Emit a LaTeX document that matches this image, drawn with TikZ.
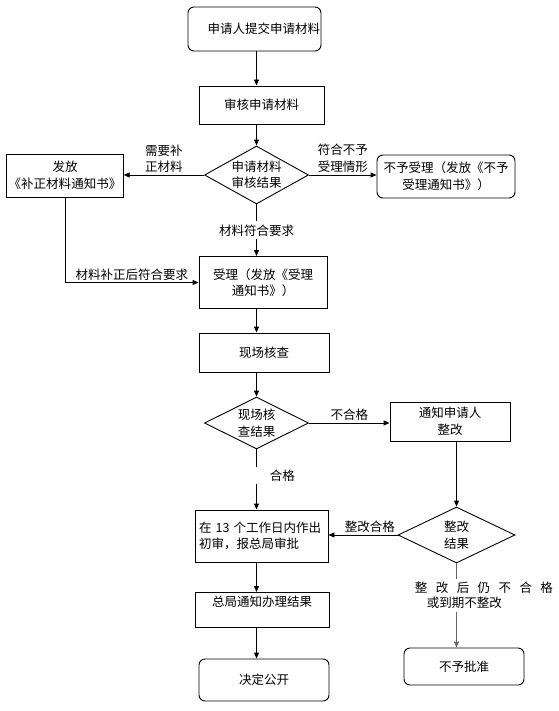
\documentclass[tikz,border=0pt]{standalone}
\usepackage{fontspec}
\setmainfont{Noto Sans CJK SC}
\usetikzlibrary{arrows.meta,shapes.geometric}

\begin{document}
\begin{tikzpicture}[x=1pt, y=-1pt, line width=0.9pt,
  every node/.style={font=\fontsize{12.5}{16.5}\selectfont},
  >={Triangle[length=6pt, width=5pt]},
  procbox/.style={draw, rectangle, align=center, inner sep=2pt},
  roundbox/.style={procbox, rounded corners=6pt},
  decision/.style={draw, diamond, align=center, inner sep=0pt},
  lbl/.style={align=center, inner sep=2pt},
  onlbl/.style={lbl, fill=white, inner sep=3pt}]
	\useasboundingbox (0,0) rectangle (558,711);
	% main column
	\node[roundbox, minimum width=133pt, minimum height=44pt, text width=131pt, inner xsep=1pt, align=right] (apply) at (254.5,29) {申请人提交申请材料};
	\node[procbox, minimum width=125pt, minimum height=38pt] (review) at (261.5,105) {审核申请材料};
	\node[decision, aspect=1.8, minimum width=104pt, minimum height=58pt] (check) at (256.5,175) {申请材料\\审核结果};
	\node[procbox, minimum width=116pt, minimum height=43pt] (supp) at (65,175.5) {发放\\《补正材料通知书》};
	\node[roundbox, minimum width=138pt, minimum height=43pt] (refuse) at (446,176.5) {不予受理（发放《不予\\受理通知书》）};
	\node[procbox, minimum width=128pt, minimum height=52pt] (accept) at (263,282.5) {受理（发放《受理\\通知书》）};
	\node[procbox, minimum width=130pt, minimum height=39pt] (site) at (264,352.5) {现场核查};
	\node[decision, aspect=2, minimum width=104pt, minimum height=52pt] (siteres) at (256.5,423) {现场核\\查结果};
	\node[procbox, minimum width=120pt, minimum height=39pt] (notify) at (450,421.5) {通知申请人\\整改};
	\node[procbox, minimum width=133pt, minimum height=52pt, text width=125pt, inner xsep=4pt, align=left] (prelim) at (261.5,536) {在~13~个工作日内作出\\初审，报总局审批};
	\node[decision, aspect=2, minimum width=117pt, minimum height=56pt] (fixres) at (456.5,535) {整改\\结果};
	\node[procbox, minimum width=134pt, minimum height=35pt, text depth=18pt] (result) at (262,610) {总局通知办理结果};
	\node[roundbox, minimum width=130pt, minimum height=42pt] (publish) at (264,680) {决定公开};
	\node[roundbox, minimum width=120pt, minimum height=37pt] (deny) at (464,666.5) {不予批准};
	% connectors
	\draw[->] (apply.south -| check.north) -- (review.north -| check.north);
	\draw[->] (review.south -| check.north) -- (check.north);
	\draw[->] (check.west) -- node[lbl, above] {需要补\\正材料} (check.west -| supp.east);
	\draw[->] (check.east) -- node[lbl, above] {符合不予\\受理情形} (check.east -| refuse.west);
	\draw[->] (check.south) -- node[onlbl] {材料符合要求} (check.south |- accept.north);
	\draw[->] (supp.south) |- node[lbl, above, pos=0.75] {材料补正后符合要求} (accept.west);
	\draw[->] (accept.south -| check.north) -- (site.north -| check.north);
	\draw[->] (site.south -| check.north) -- (siteres.north);
	\draw[->] (siteres.east) -- node[lbl, above] {不合格} (siteres.east -| notify.west);
	\draw[->] (siteres.south) -- node[onlbl, pos=0.43, anchor=west, xshift=-2pt, inner xsep=15pt] {合格} (siteres.south |- prelim.north);
	\draw[->] (notify.south -| fixres.north) -- (fixres.north);
	\draw[->] (fixres.west) -- node[lbl, above, pos=0.4] {整改合格} (fixres.west -| prelim.east);
	\draw[->] (prelim.south -| check.north) -- (result.north -| check.north);
	\draw[->] (result.south -| check.north) -- (publish.north -| check.north);
	\draw[->, draw=black!60] (fixres.south) -- node[onlbl, text=black, pos=0.38, anchor=west, xshift=-45pt, align=left, font=\fontsize{12.5}{15}\selectfont]
		{\makebox[138pt]{整\hfill 改\hfill 后\hfill 仍\hfill 不\hfill 合\hfill 格}\\\hspace*{12pt}或到期不整改} (fixres.south |- deny.north);
\end{tikzpicture}
\end{document}
